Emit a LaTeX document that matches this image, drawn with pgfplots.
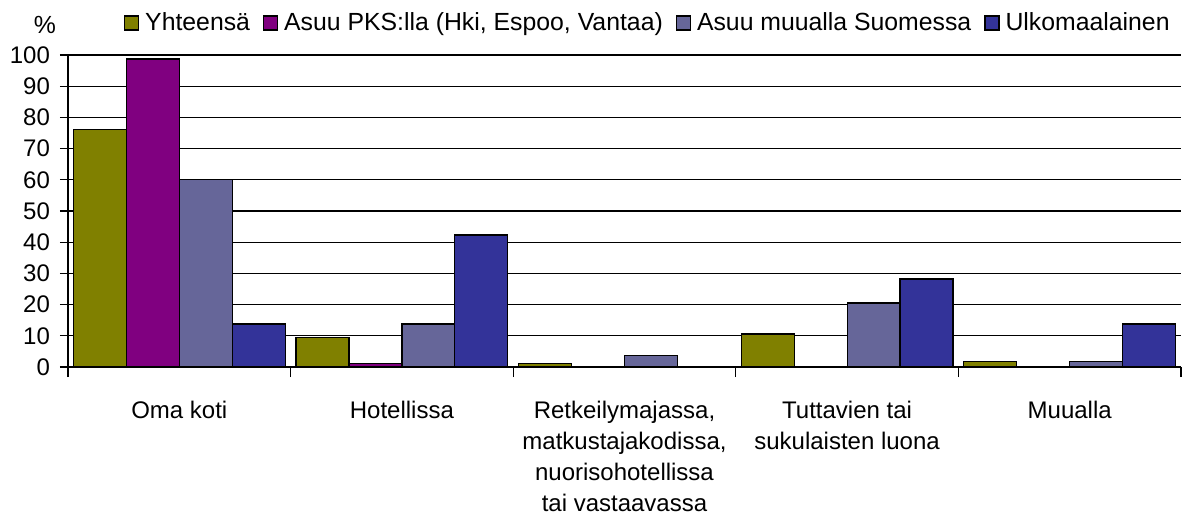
\documentclass[border=0pt]{standalone}
\usepackage{pgfplots}
\pgfplotsset{compat=1.18}
\usepackage{fontspec}
\setmainfont{Liberation Sans}
\definecolor{c1}{HTML}{808000}
\definecolor{c2}{HTML}{800080}
\definecolor{c3}{HTML}{666699}
\definecolor{c4}{HTML}{333399}
\begin{document}
\begin{tikzpicture}
\begin{axis}[
  name=ax, scale only axis, width=556.5pt, height=156pt,
  xmin=-0.5, xmax=4.5, ymin=0, ymax=100,
  ybar=0pt, bar width=0.238,
  axis x line*=bottom, axis y line*=left,
  axis line style={black, line width=0.8pt},
  ytick={0,10,...,100},
  ymajorgrids, grid style={black, line width=0.6pt},
  xtick={0,1,2,3,4},
  xticklabels={Oma koti, Hotellissa, {Retkeilymajassa,\\matkustajakodissa,\\nuorisohotellissa\\tai vastaavassa}, {Tuttavien tai\\sukulaisten luona}, Muualla},
  minor xtick={-0.5,0.5,1.5,2.5,3.5,4.5},
  tick align=outside,
  x tick style={draw=none},
  minor x tick style={draw=black, line width=0.6pt},
  y tick style={black, line width=0.6pt},
  major tick length=4pt, minor tick length=5pt,
  /pgf/number format/assume math mode=true,
  tick label style={font=\fontsize{12}{15.5}\selectfont},
  yticklabel style={xshift=-1.5pt},
  xticklabel style={align=center, yshift=-9.5pt},
  clip=false,
  legend columns=4,
  legend style={at={(1,1)}, anchor=east, xshift=-2.5pt, yshift=16pt,
    draw=none, fill=none, inner sep=0pt,
    font=\fontsize{12.4}{14}\selectfont,
    nodes={inner sep=3pt},
    /tikz/every even column/.append style={column sep=3.5pt}},
  legend image code/.code={\draw[#1, draw=black, line width=0.6pt] (0pt,-3.5pt) rectangle (7pt,3.5pt);},
  every axis plot/.append style={draw=black, line width=0.6pt},
]
\addplot[fill=c1] coordinates {(0,76.2) (1,9.4) (2,1.0) (3,10.6) (4,1.7)};
\addplot[fill=c2] coordinates {(0,98.7) (1,1.0) (2,0) (3,0) (4,0)};
\addplot[fill=c3] coordinates {(0,60.2) (1,13.8) (2,3.7) (3,20.5) (4,1.7)};
\addplot[fill=c4] coordinates {(0,13.8) (1,42.3) (2,0) (3,28.2) (4,13.8)};
\legend{Yhteensä, {Asuu PKS:lla (Hki, Espoo, Vantaa)}, Asuu muualla Suomessa, Ulkomaalainen}
\node[font=\fontsize{12.4}{14}\selectfont] at ([xshift=-11.5pt,yshift=15pt]rel axis cs:0,1) {\%};
\end{axis}
\pgfresetboundingbox
\path ([xshift=-34pt,yshift=-73.5pt]ax.south west) rectangle ([xshift=1pt,yshift=27.5pt]ax.north east);
\end{tikzpicture}
\end{document}
